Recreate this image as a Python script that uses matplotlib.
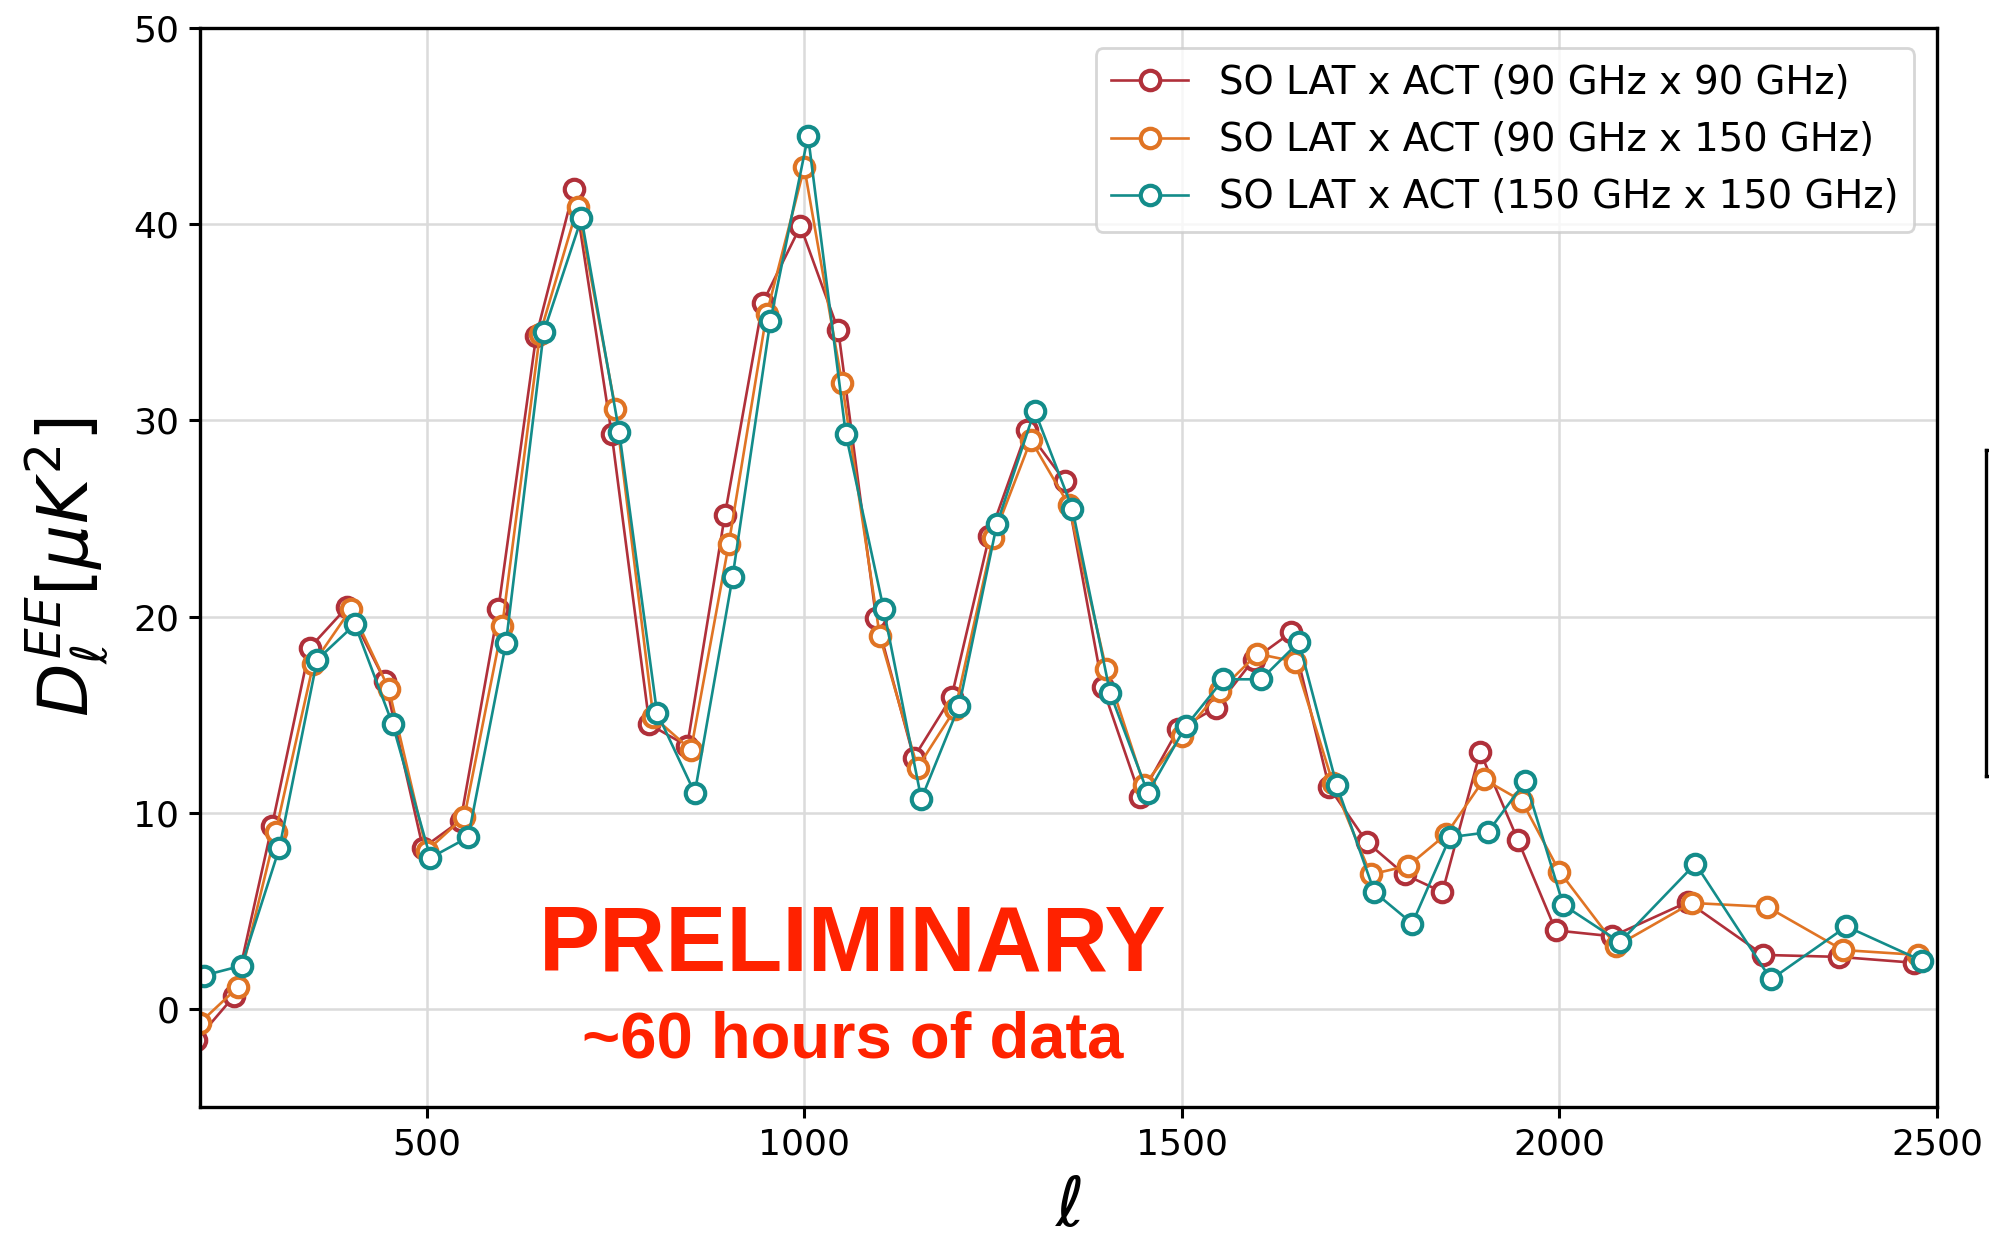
import numpy as np
import matplotlib
matplotlib.use("Agg")
import matplotlib.pyplot as plt

# bin centres in ell (step 50 up to 2000, then wider bins)
ell = [200, 250, 300, 350, 400, 450, 500, 550, 600, 650, 700, 750, 800, 850,
       900, 950, 1000, 1050, 1100, 1150, 1200, 1250, 1300, 1350, 1400, 1450,
       1500, 1550, 1600, 1650, 1700, 1750, 1800, 1850, 1900, 1950, 2000,
       2075, 2175, 2275, 2375, 2475]

dl_90x90 = [-1.6, 0.65, 9.3, 18.4, 20.5, 16.7, 8.2, 9.6, 20.4, 34.3, 41.8, 29.3,
            14.5, 13.4, 25.2, 36.0, 39.9, 34.6, 19.95, 12.8, 15.9, 24.1, 29.5,
            26.9, 16.4, 10.8, 14.25, 15.35, 17.8, 19.2, 11.3, 8.5, 6.85, 5.95,
            13.1, 8.6, 4.0, 3.7, 5.45, 2.75, 2.65, 2.35]

dl_90x150 = [-0.7, 1.1, 9.0, 17.6, 20.4, 16.3, 8.05, 9.8, 19.5, 34.4, 40.9, 30.6,
             14.9, 13.2, 23.7, 35.4, 42.9, 31.9, 19.0, 12.3, 15.3, 24.0, 29.0,
             25.7, 17.3, 11.4, 13.9, 16.2, 18.1, 17.7, 11.5, 6.85, 7.3, 8.9,
             11.7, 10.6, 7.0, 3.2, 5.4, 5.2, 3.0, 2.75]

dl_150x150 = [1.7, 2.2, 8.2, 17.8, 19.6, 14.5, 7.7, 8.75, 18.65, 34.5, 40.3, 29.4,
              15.1, 11.0, 22.0, 35.05, 44.5, 29.3, 20.4, 10.7, 15.45, 24.7, 30.5,
              25.5, 16.1, 11.0, 14.4, 16.8, 16.8, 18.7, 11.4, 5.95, 4.35, 8.75,
              9.0, 11.6, 5.3, 3.4, 7.4, 1.5, 4.2, 2.45]

labels = ["SO LAT x ACT (90 GHz x 90 GHz)",
          "SO LAT x ACT (90 GHz x 150 GHz)",
          "SO LAT x ACT (150 GHz x 150 GHz)"]
colors = ["#b0303a", "#e07424", "#138c8a"]
offsets = [-5, 0, 5]

fig = plt.figure(figsize=(9.945, 6.2), dpi=200)
ax = fig.add_axes([0.1006, 0.1073, 0.8733, 0.8701])

ell = np.array(ell)
for dl, lab, col, off in zip([dl_90x90, dl_90x150, dl_150x150], labels, colors, offsets):
    ax.plot(ell + off, dl, "-o", color=col, lw=0.95, ms=7.0, mew=1.5,
            mfc="white", mec=col, label=lab)

ax.set_xlim(200, 2500)
ax.set_ylim(-5, 50)
ax.set_xticks([500, 1000, 1500, 2000, 2500])
ax.set_yticks([0, 10, 20, 30, 40, 50])
ax.tick_params(labelsize=13, width=1.1, length=4)
for s in ax.spines.values():
    s.set_linewidth(1.2)
ax.grid(True, color="0.86", lw=0.9)
ax.set_axisbelow(True)

ax.set_xlabel(r"$\ell$", fontsize=25, labelpad=4)
ax.set_ylabel(r"$D_\ell^{EE}[\mu K^2]$", fontsize=25, labelpad=8)

ax.legend(loc="upper right", fontsize=13.9, handlelength=2.0, borderpad=0.4,
          labelspacing=0.5, framealpha=0.8, bbox_to_anchor=(0.998, 0.999))

ax.text(0.3755, 0.149, "PRELIMINARY", transform=ax.transAxes, ha="center",
        va="center", color="#ff2200", fontsize=33, fontweight="bold",
        family="Liberation Sans")
ax.text(0.3755, 0.062, "~60 hours of data", transform=ax.transAxes, ha="center",
        va="center", color="#ff2200", fontsize=23.5, fontweight="bold",
        family="Liberation Sans")

# edge of a neighbouring panel cut off at the right of the image
side = fig.add_axes([1986 / 1989, 1 - 776 / 1240, 0.02, (776 - 450) / 1240])
side.set_xticks([])
side.set_yticks([])
for s in side.spines.values():
    s.set_linewidth(1.2)

fig.savefig("out.png", dpi=200)
